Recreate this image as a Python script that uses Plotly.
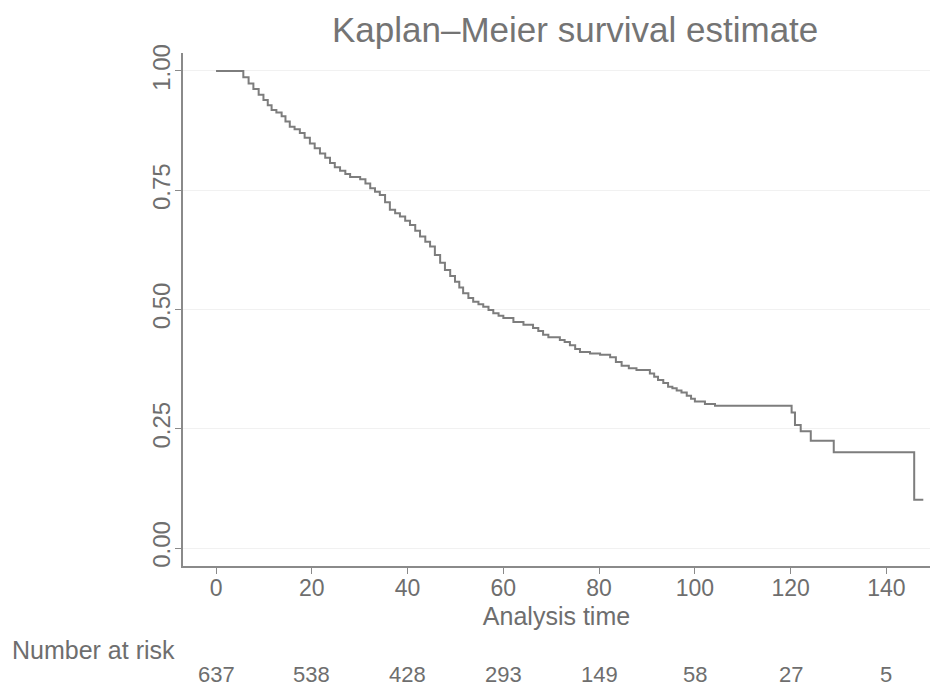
import plotly.graph_objects as go

# Kaplan-Meier step data (time at which survival drops, survival after the drop)
times = [0, 5.7, 6.8, 7.8, 8.9, 9.9, 10.8, 11.6, 12.6, 13.7, 14.5, 15.4, 16.4, 17.5, 18.5, 19.6,
         20.6, 21.7, 22.8, 23.8, 24.8, 25.9, 27.0, 28.0, 30.1, 31.2, 32.2, 33.2, 34.2, 35.3, 36.3,
         37.4, 38.4, 39.5, 40.5, 41.6, 42.6, 43.7, 44.7, 45.7, 46.8, 47.8, 48.9, 49.9, 50.8, 51.6,
         52.7, 53.7, 54.8, 55.8, 56.9, 57.9, 59.0, 60.0, 62.1, 64.2, 66.2, 67.3, 68.3, 69.4, 71.8,
         72.8, 73.9, 75.0, 76.0, 78.1, 80.2, 82.3, 83.5, 84.7, 86.2, 87.8, 90.6, 91.5, 92.3, 93.4,
         94.4, 95.3, 96.2, 97.2, 98.3, 99.2, 100.0, 102.1, 104.2, 120.2, 120.9, 122.1, 124.2,
         129.0, 145.8, 147.7]
survival = [1.0, 0.987, 0.974, 0.962, 0.950, 0.939, 0.928, 0.918, 0.913, 0.905, 0.894, 0.883,
            0.878, 0.870, 0.860, 0.848, 0.838, 0.827, 0.818, 0.807, 0.798, 0.791, 0.784, 0.778,
            0.773, 0.764, 0.754, 0.747, 0.740, 0.725, 0.709, 0.702, 0.695, 0.686, 0.677, 0.665,
            0.653, 0.642, 0.632, 0.614, 0.598, 0.583, 0.570, 0.558, 0.546, 0.534, 0.524, 0.516,
            0.511, 0.506, 0.499, 0.492, 0.487, 0.482, 0.474, 0.468, 0.461, 0.455, 0.447, 0.442,
            0.436, 0.432, 0.425, 0.417, 0.411, 0.408, 0.405, 0.400, 0.390, 0.382, 0.377, 0.373,
            0.366, 0.359, 0.352, 0.346, 0.338, 0.335, 0.330, 0.326, 0.319, 0.313, 0.307, 0.302,
            0.298, 0.284, 0.258, 0.245, 0.225, 0.201, 0.101, 0.101]

x_ticks = [0, 20, 40, 60, 80, 100, 120, 140]
y_ticks = [0.0, 0.25, 0.50, 0.75, 1.0]
y_tick_labels = ["0.00", "0.25", "0.50", "0.75", "1.00"]
risk_times = [0, 20, 40, 60, 80, 100, 120, 140]
at_risk = [637, 538, 428, 293, 149, 58, 27, 5]

FONT = "Liberation Sans, Arial, Helvetica, sans-serif"
TXT = "#6e6e6e"
AX = "#8a8a8a"

fig = go.Figure()
fig.add_trace(go.Scatter(
    x=times, y=survival, mode="lines", line=dict(shape="hv", color="#7d7d7d", width=2),
    showlegend=False, hoverinfo="x+y"))

for t, n in zip(risk_times, at_risk):
    fig.add_annotation(x=t, xref="x", y=-0.212, yref="paper", text=str(n), showarrow=False,
                       font=dict(family=FONT, size=22, color=TXT), xanchor="center", yanchor="middle")

fig.add_annotation(x=-0.2316, xref="paper", y=-0.1637, yref="paper", text="Number at risk",
                   showarrow=False, font=dict(family=FONT, size=25, color=TXT),
                   xanchor="left", yanchor="middle")

fig.update_layout(
    width=939, height=689,
    margin=dict(l=175, r=17, t=45, b=131),
    paper_bgcolor="white", plot_bgcolor="white",
    title=dict(text="Kaplan–Meier survival estimate", x=0.604, xanchor="center", y=0.968,
               yanchor="middle", font=dict(family=FONT, size=35, color="#747474")),
    xaxis=dict(range=[-6.9, 149.1], tickvals=x_ticks, ticks="outside", ticklen=6,
               tickcolor=AX, showline=True, linecolor=AX, linewidth=1.5, showgrid=False,
               zeroline=False, tickfont=dict(family=FONT, size=23, color=TXT),
               ticklabelstandoff=-5,
               title=dict(text="Analysis time", font=dict(family=FONT, size=25, color=TXT),
                          standoff=7)),
    yaxis=dict(range=[-0.0377, 1.0377], tickvals=y_ticks, ticktext=y_tick_labels,
               ticks="outside", ticklen=6, tickcolor=AX, showline=True, linecolor=AX,
               linewidth=1.5, showgrid=True, gridcolor="#f1f1f1", gridwidth=1,
               zeroline=False, tickangle=-90, ticklabelstandoff=-4,
               tickfont=dict(family=FONT, size=24, color=TXT)),
)

fig.write_html("out.html")
